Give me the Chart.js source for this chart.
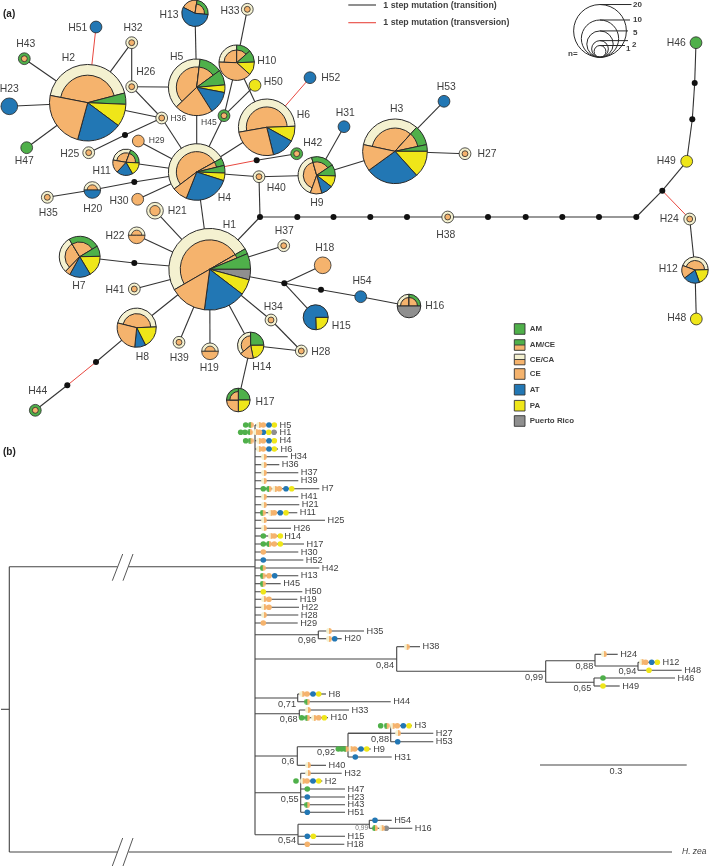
<!DOCTYPE html>
<html>
<head>
<meta charset="utf-8">
<title>Haplotype network and tree</title>
<script src="https://cdn.jsdelivr.net/npm/chart.js@4"></script>
<style>
  html, body { margin: 0; padding: 0; background: #fff; }
  canvas { display: block; }
</style>
</head>
<body>
<canvas id="myChart" width="709" height="866"></canvas>
<script>
// regions
const regionNames = ['AM', 'AM/CE', 'CE/CA', 'CE', 'AT', 'PA', 'Puerto Rico'];
const sizeKeyValues = [20, 10, 5, 2, 1];

// (a) haplotypes, H1 to H54
const hapX = [209.7, 87.7, 395, 196.7, 196.7, 266.7, 79.7, 136.7, 316.7, 236.7,
  126, 695, 195, 250.7, 315.7, 409, 238.3, 322.7, 210, 92.3,
  155, 136.7, 9.3, 689.7, 88.7, 131.7, 465, 301.3, 138.3, 137.7,
  344, 131.7, 247.3, 271, 47.3, 161.7, 283.7, 447.7, 179, 259,
  134.3, 296.7, 24.3, 35.3, 224, 696, 26.7, 696.3, 686.7, 255,
  96, 310, 444, 360.7];
const hapY = [269.3, 102.7, 151.3, 172, 87.3, 127.3, 256.7, 327.7, 175.3, 62.7,
  162.3, 270, 13.3, 345.3, 317.3, 306, 400, 265.3, 351.3, 190,
  210.7, 235.3, 106.3, 219, 152.7, 86.7, 153.7, 351, 141, 199.3,
  126.7, 42.7, 9.3, 320, 197.3, 118, 245.7, 217, 342.3, 176.7,
  289, 153.7, 58.7, 410.3, 115.7, 42.7, 147.7, 319, 161.3, 85.3,
  27, 77.7, 101.3, 296.7];
const hapStart = [150, 191, 192, 143, 136, 170, 134, 194, 110, 182,
  190, 200, 207, 140, 0, 180, 270, 0, 180, 180,
  0, 180, 0, 0, 0, 0, 0, 0, 0, 0,
  0, 0, 0, 0, 0, 0, 0, 0, 0, 0,
  0, 0, 0, 0, 0, 0, 0, 0, 0, 0,
  0, 0, 0, 0];
// [region index, sequences], clockwise from hapStart
const hapCounts = [
  [[2,24],[1,1],[0,3],[6,2],[5,3],[4,8],[3,7]],
  [[2,18],[0,2],[5,4],[4,8],[3,10]],
  [[2,10],[1,3],[0,1],[5,4],[4,8],[3,4]],
  [[2,12],[1,1],[0,1],[5,1],[4,6],[3,2]],
  [[2,9],[1,3],[0,2],[5,1],[4,3],[3,5]],
  [[2,12],[5,2],[4,3],[3,6]],
  [[2,3.5],[1,3],[0,1],[5,2],[4,2],[3,0.5]],
  [[2,5],[5,2],[4,1],[3,3]],
  [[2,4],[1,2],[0,1],[5,1],[4,1],[3,1]],
  [[2,2.2],[1,1.2],[0,1],[5,1.1],[3,3.5]],
  [[2,1.4],[1,1],[5,0.8],[4,1],[3,0.8]],
  [[2,2.2],[5,1],[4,1],[3,0.8]],
  [[3,1],[1,1.2],[4,2.8]],
  [[2,1.8],[0,1.25],[5,1.1],[3,0.85]],
  [[5,1.1],[4,3.4]],
  [[2,1],[1,1],[6,2]],
  [[0,1],[5,1],[3,1],[1,1]],
  [[3,2]],
  [[2,1],[3,1]],
  [[2,1],[4,1]],
  [[2,2]],
  [[2,1],[3,1]],
  [[4,2]],
  [[2,1]], [[2,1]], [[2,1]], [[2,1]], [[2,1]],
  [[3,1]], [[3,1]], [[4,1]],
  [[2,1]], [[2,1]], [[2,1]], [[2,1]], [[2,1]], [[2,1]], [[2,1]], [[2,1]], [[2,1]], [[2,1]],
  [[1,1]], [[1,1]], [[1,1]], [[1,1]],
  [[0,1]], [[0,1]], [[5,1]], [[5,1]], [[5,1]],
  [[4,1]], [[4,1]], [[4,1]], [[4,1]]
];
const hapLabelX = [229.3, 68.3, 396.7, 224.3, 176.7, 303.3, 79, 142.3, 317, 266.7,
  101.7, 668.3, 169, 261.7, 341.3, 434.7, 265, 324.7, 209.3, 92.7,
  177.3, 115, 9.3, 669.3, 69.7, 145.7, 487, 320.7, 156.7, 119,
  345.3, 133, 230, 273.3, 48.3, 178.3, 284.3, 445.7, 179.3, 276.3,
  115, 312.7, 25.7, 37.7, 209, 676.3, 24.3, 676.7, 666.3, 273.3,
  77.7, 330.7, 446.3, 362];
const hapLabelY = [224.7, 58.3, 108.7, 197.7, 57.3, 114.7, 286, 357.3, 202.7, 61.3,
  171, 269, 15, 366.7, 326, 306, 401.7, 248.3, 368.3, 208.7,
  210.7, 235.7, 88.7, 219.3, 153.7, 71.7, 153.7, 352, 140.3, 201,
  113.3, 27.7, 11, 306.7, 213.3, 119, 230.7, 234.7, 357.7, 187.7,
  290.3, 142.7, 44.3, 391, 122.3, 42.7, 161, 318, 161.3, 82.3,
  28.3, 77.7, 86.7, 281];

// (a) unsampled intermediate steps
const stepX = [125, 134.3, 256.7, 260, 297.3, 333.5, 370.3, 407, 488, 525.7, 562.3, 599, 636.3,
  662.3, 692.3, 694.7, 134.3, 284.3, 321, 96, 67.3];
const stepY = [135, 182, 160.3, 217, 217, 217, 217, 217, 217, 217, 217, 217, 217,
  190.7, 119.3, 83, 263, 283.3, 289.7, 362, 385.3];

// (a) links: numbers are haplotypes, s numbers are steps (stepX index)
const transitionLinks = [
  [2,43],[2,23],[2,47],[2,32],[2,36],[32,26],[26,5],[26,36],[36,'s0'],['s0',25],[36,4],
  [5,13],[5,4],[10,33],[10,45],[10,6],[45,50],[45,4],[6,4],[4,29],[4,11],[4,'s1'],['s1',20],[20,35],
  [4,30],[4,1],['s2',42],[4,40],[40,9],[40,'s3'],[9,31],[9,3],[3,53],[3,27],
  [1,21],[1,22],[1,'s16'],['s16',7],[1,41],[1,8],[8,'s19'],['s20',44],[1,39],[1,19],[1,14],[14,17],[14,28],
  [1,34],[34,28],[1,'s3'],[1,37],[1,'s17'],['s17',18],['s17',15],['s17','s18'],['s18',54],[54,16],
  ['s3','s4'],['s4','s5'],['s5','s6'],['s6','s7'],['s7',38],[38,'s8'],['s8','s9'],['s9','s10'],['s10','s11'],['s11','s12'],
  ['s12','s13'],['s13',49],[49,'s14'],['s14','s15'],['s15',46],[24,12],[12,48]
];
const transversionLinks = [[2,51],[6,52],[4,'s2'],['s19','s20'],['s13',24]];

// (b) tree tips
const tipNames = ['H5','H1','H4','H6','H34','H36','H37','H39','H7','H41','H21','H11','H25','H26','H14','H17','H30','H52','H42','H13','H45','H50','H19','H22','H28','H29',
  'H35','H20','H38','H24','H12','H48','H46','H49','H8','H44','H33','H10','H3','H27','H53','H9','H31','H40','H32','H2','H47','H23','H43','H51','H54','H16','H15','H18'];
const tipStart = [255,255,255,255,255,255,255,255,255,255,255,255,255,255,255,255,255,255,255,255,255,255,255,255,255,255,
  318.3,318.3,396.7,595,638,638,594,594,297.7,297.7,299.3,299.3,390.7,348,390.7,348,348,297.3,300.7,300.7,300.7,300.7,300.7,300.7,369.3,369.3,298,298];
const tipEnd = [277,277,277,278,287.7,279.3,298.3,298.3,319.3,298.3,299.3,297.3,325,291,281.7,304,298.3,303.3,319.3,298.3,280.7,302.3,297.3,299,298.3,297.7,
  364,341.7,420,617.7,660,681.7,675,619.7,326,390.7,349,328,412,433.3,433.3,370.7,391.7,326,341.7,322.3,345,345,345,345,391.7,412.3,345,344.3];
const tipY = [425,432.3,440.7,449,456.7,464.7,472.7,480.7,488.7,496.7,504.7,512.7,520.3,528.3,536,544,552,560,568,575.7,583.7,591.7,599.3,607.3,615,623,
  631,638.7,646.7,654.3,662.3,670.3,678,686,694,701.7,710,717.7,725.7,733.3,741.7,749,757,765.3,773.3,781,789,797,804.7,812.3,820.3,828.3,836.3,844.3];
// [region index, x on the tree] for each tip
const tipRegions = [
  [[0,245.7],[1,250.7],[2,259],[3,263.3],[4,269],[5,274.3]],
  [[0,240.7],[0,245],[1,250],[2,256],[3,259.5],[4,263.3],[5,268.7],[6,274]],
  [[0,245.7],[1,250.5],[2,259],[3,263.3],[4,269],[5,274.3]],
  [[2,259],[3,263.3],[4,269],[5,274.3]],
  [[2,264]],[[2,264]],[[2,264]],[[2,264]],
  [[0,263.3],[1,269],[2,275],[3,279.3],[4,286],[5,291.7]],
  [[2,264]],[[2,264]],
  [[1,262.7],[2,270.7],[3,274.3],[4,280.3],[5,286]],
  [[2,264]],[[2,264]],
  [[0,263.3],[2,270.7],[3,274.3],[5,280.3]],
  [[0,263.3],[1,269],[3,274.3],[5,280.3]],
  [[3,263.3]],[[4,263.3]],[[1,262.7]],
  [[1,262.7],[3,269],[4,274.7]],
  [[1,262.7]],[[5,263.3]],
  [[2,264],[3,269]],[[2,264],[3,269]],[[2,264]],[[3,263.3]],
  [[2,329]],[[2,329],[4,334.7]],[[2,406.7]],[[2,604]],
  [[2,641.7],[3,645.7],[4,651.7],[5,657.3]],[[5,649]],[[0,603]],[[5,603]],
  [[2,302.3],[3,307],[4,313],[5,318.7]],[[1,307.3]],[[2,308]],
  [[0,301.7],[1,307.3],[2,314],[3,318.7],[5,324.3]],
  [[0,380.7],[1,386.7],[2,392.7],[3,397.3],[4,403.3],[5,409]],
  [[2,398]],[[4,397.7]],
  [[0,338.3],[0,341.7],[1,345.7],[2,350.7],[3,354.7],[4,361],[5,366.7]],
  [[4,355.3]],[[2,308]],[[2,308]],
  [[0,296],[2,302.7],[3,307],[4,313],[5,318.7]],
  [[0,307.3]],[[4,307.3]],[[1,307.3]],[[4,307.3]],[[4,375]],
  [[1,375],[2,381.7],[6,386.3]],
  [[4,307.3],[5,313.3]],[[3,307.3]]
];

// (b) inner branches [x1, y1, x2, y2]
const treeBranches = [
  [1,709.3,9.3,709.3],[9.3,566.7,9.3,852],[9.3,566.7,117.5,566.7],[128.5,566.7,255,566.7],
  [9.3,852,117.5,852],[128.5,852,672,852],[255,425,255,834.7],
  [255,634.7,318.3,634.7],[318.3,631,318.3,638.7],
  [255,659,396.7,659],[396.7,646.7,396.7,671.3],[396.7,671.3,545.7,671.3],[545.7,660.7,545.7,682.3],
  [545.7,660.7,595,660.7],[595,654.3,595,666],[595,666,638,666],[638,662.3,638,670.3],
  [545.7,682.3,594,682.3],[594,678,594,686],
  [255,698,297.7,698],[297.7,694,297.7,701.7],
  [255,713.7,299.3,713.7],[299.3,710,299.3,717.7],
  [255,756,297.3,756],[297.3,746.7,297.3,765.3],[297.3,746.7,348,746.7],[348,733.3,348,757],
  [348,733.3,390.7,733.3],[390.7,725.7,390.7,741.7],
  [255,792.7,300.7,792.7],[300.7,773.3,300.7,812.3],
  [255,834.7,298,834.7],[298,824.3,298,844.3],[298,824.3,369.3,824.3],[369.3,820.3,369.3,828.3]
];
const treeBreaks = [
  [112.3,580.7,122.7,554],[123,580.7,133,554],
  [112.3,866,122.7,838],[123,866,133,838]
];
const scaleBar = [540, 765, 686.7, 765];

// (b) support values
const supportText = ['0,96','0,84','0,99','0,88','0,94','0,65','0,71','0,68','0,6','0,92','0,88','0,55','0,54'];
const supportX = [316,394,543,593.3,636.3,591.3,296,297.7,294.3,335,389,298.7,296];
const supportY = [640,665,677.3,666.7,671.7,688.7,704.7,719.3,761.7,752,739.3,799,840.3];

const regionColors = ['#4fb04a', '#4fb04a', '#f4f1d0', '#f5b36d', '#2277b4', '#efe619', '#8f8f8f'];
const inkColor = '#2a2a2a';
const textColor = '#3f3f3f';
const redColor = '#e8473f';
const unitRadius = 5.9;
const sans = '"Liberation Sans", Arial, sans-serif';

function nodeOf(id) {
  if (typeof id === 'string') {
    const i = Number(id.slice(1));
    return { x: stepX[i], y: stepY[i] };
  }
  return { x: hapX[id - 1], y: hapY[id - 1] };
}

function segment(x1, y1, x2, y2, color, width) {
  return {
    type: 'scatter',
    data: [{ x: x1, y: y1 }, { x: x2, y: y2 }],
    showLine: true,
    borderColor: color,
    borderWidth: width,
    pointRadius: 0,
    order: 5
  };
}

// half dots of the tree are small canvases used as point styles
function halfDot(left, right) {
  const c = document.createElement('canvas');
  c.width = 6; c.height = 6;
  const g = c.getContext('2d');
  g.fillStyle = left;
  g.beginPath(); g.arc(3, 3, 2.9, Math.PI / 2, Math.PI * 1.5); g.fill();
  g.fillStyle = right;
  g.beginPath(); g.arc(3, 3, 2.9, -Math.PI / 2, Math.PI / 2); g.fill();
  return c;
}

const datasets = [];
transitionLinks.forEach(l => {
  const a = nodeOf(l[0]), b = nodeOf(l[1]);
  datasets.push(segment(a.x, a.y, b.x, b.y, '#333', 1.1));
});
transversionLinks.forEach(l => {
  const a = nodeOf(l[0]), b = nodeOf(l[1]);
  datasets.push(segment(a.x, a.y, b.x, b.y, redColor, 1));
});
treeBranches.forEach(b => datasets.push(segment(b[0], b[1], b[2], b[3], '#444', 1.1)));
treeBreaks.forEach(b => datasets.push(segment(b[0], b[1], b[2], b[3], '#444', 0.9)));
tipNames.forEach((n, i) => datasets.push(segment(tipStart[i], tipY[i], tipEnd[i], tipY[i], '#444', 1.1)));
datasets.push(segment(scaleBar[0], scaleBar[1], scaleBar[2], scaleBar[3], '#444', 1.1));
datasets.push(segment(348.3, 5, 376, 5, '#333', 1.1));
datasets.push(segment(348.3, 22.7, 376, 22.7, redColor, 1.1));

// black steps
datasets.push({
  type: 'scatter',
  data: stepX.map((x, i) => ({ x: x, y: stepY[i] })),
  pointRadius: 3,
  pointBackgroundColor: '#111',
  pointBorderWidth: 0,
  order: 2
});

// tree dots, one dataset per region
regionNames.forEach((name, r) => {
  const pts = [];
  tipRegions.forEach((list, i) => {
    list.forEach(d => { if (d[0] === r) pts.push({ x: d[1], y: tipY[i] }); });
  });
  let style = 'circle';
  if (r === 1) style = halfDot(regionColors[0], regionColors[3]);
  if (r === 2) style = halfDot(regionColors[2], regionColors[3]);
  datasets.push({
    type: 'scatter',
    data: pts,
    pointStyle: style,
    pointRadius: 2.8,
    pointBackgroundColor: regionColors[r],
    pointBorderWidth: 0,
    order: 1
  });
});

function sector(g, x, y, r, a0, a1, whole) {
  g.beginPath();
  if (whole) {
    g.arc(x, y, r, 0, Math.PI * 2);
  } else {
    g.moveTo(x, y);
    g.arc(x, y, r, a0, a1);
    g.closePath();
  }
}

const networkPlugin = {
  id: 'network',
  afterDatasetsDraw(chart) {
    const g = chart.ctx;
    const sx = chart.scales.x, sy = chart.scales.y;
    g.save();
    g.lineJoin = 'round';

    hapCounts.forEach((slices, i) => {
      const x = sx.getPixelForValue(hapX[i]);
      const y = sy.getPixelForValue(hapY[i]);
      const n = slices.reduce((s, c) => s + c[1], 0);
      const r = unitRadius * Math.sqrt(n);
      let a = hapStart[i] * Math.PI / 180;
      const whole = slices.length === 1;
      slices.forEach(c => {
        const b = a + c[1] / n * Math.PI * 2;
        const region = c[0];
        const ringed = region === 1 || region === 2;
        g.fillStyle = regionColors[region];
        sector(g, x, y, r, a, b, whole);
        g.fill();
        g.strokeStyle = inkColor;
        g.lineWidth = n <= 2 ? 0.8 : 1;
        g.stroke();
        if (ringed) {
          const inner = r * (n === 1 ? 0.5 : n === 2 ? 0.62 : 0.72);
          g.fillStyle = regionColors[3];
          sector(g, x, y, inner, a, b, whole);
          g.fill();
          g.stroke();
        }
        a = b;
      });
    });

    // size key
    const keyX = sx.getPixelForValue(600), keyBottom = sy.getPixelForValue(57.3);
    g.strokeStyle = inkColor;
    g.lineWidth = 1;
    g.textAlign = 'left';
    g.textBaseline = 'middle';
    const keyEnds = [631.5, 630, 628, 628, 625];
    const keyLabelY = [4.5, 20, 33, 44.5, 49];
    const keyLabelX = [633, 633, 633, 632, 626];
    sizeKeyValues.forEach((v, i) => {
      const r = unitRadius * Math.sqrt(v);
      g.beginPath();
      g.arc(keyX, keyBottom - r, r, 0, Math.PI * 2);
      g.stroke();
      g.beginPath();
      g.moveTo(keyX, keyBottom - 2 * r);
      g.lineTo(sx.getPixelForValue(keyEnds[i]), keyBottom - 2 * r);
      g.stroke();
      g.fillStyle = textColor;
      g.font = 'bold 8px ' + sans;
      g.fillText(String(v), keyLabelX[i], keyLabelY[i]);
    });
    g.fillText('n=', 568, 54);

    // region legend
    const legendY = [329, 345, 359.5, 374, 389.7, 405.7, 421];
    regionNames.forEach((name, i) => {
      const y = sy.getPixelForValue(legendY[i]);
      const left = sx.getPixelForValue(514.3);
      g.fillStyle = regionColors[i];
      g.fillRect(left, y - 5.3, 10.7, 10.6);
      if (i === 1 || i === 2) {
        g.fillStyle = regionColors[3];
        g.fillRect(left, y, 10.7, 5.3);
        g.strokeStyle = '#333';
        g.beginPath(); g.moveTo(left, y); g.lineTo(left + 10.7, y); g.stroke();
      }
      g.strokeStyle = '#333';
      g.lineWidth = 0.9;
      g.strokeRect(left, y - 5.3, 10.7, 10.6);
      g.fillStyle = textColor;
      g.font = 'bold 7.9px ' + sans;
      g.fillText(name, 529.7, y);
    });

    // text
    g.fillStyle = textColor;
    g.font = 'bold 8.8px ' + sans;
    g.fillText('1 step mutation (transition)', 383.3, 5.5);
    g.fillText('1 step mutation (transversion)', 383.3, 23);
    g.fillStyle = '#222';
    g.font = 'bold 10px ' + sans;
    g.fillText('(a)', 3, 14);
    g.fillText('(b)', 3, 452);

    g.textAlign = 'center';
    g.fillStyle = textColor;
    hapLabelX.forEach((x, i) => {
      const small = i === 35 || i === 44 || i === 28;
      g.font = (small ? '8.6' : '10.4') + 'px ' + sans;
      g.fillText('H' + (i + 1), x, hapLabelY[i]);
    });

    g.textAlign = 'left';
    g.font = '9.2px ' + sans;
    tipNames.forEach((n, i) => g.fillText(n, tipEnd[i] + 2.5, tipY[i]));
    g.textAlign = 'right';
    supportText.forEach((t, i) => g.fillText(t, supportX[i], supportY[i]));
    g.font = '6.5px ' + sans;
    g.fillStyle = '#777';
    g.fillText('0,99', 368, 828.7);
    g.textAlign = 'center';
    g.fillStyle = textColor;
    g.font = '9.2px ' + sans;
    g.fillText('0.3', 616, 771);
    g.textAlign = 'left';
    g.font = 'italic 8.5px ' + sans;
    g.fillText('H. zea', 682, 852);
    g.restore();
  }
};

new Chart(document.getElementById('myChart').getContext('2d'), {
  type: 'scatter',
  data: { datasets: datasets },
  options: {
    responsive: false,
    animation: false,
    layout: { padding: 0, autoPadding: false },
    plugins: { legend: { display: false }, tooltip: { enabled: false } },
    scales: {
      x: { type: 'linear', min: 0, max: 709, display: false },
      y: { type: 'linear', min: 0, max: 866, reverse: true, display: false }
    }
  },
  plugins: [networkPlugin]
});
</script>
</body>
</html>
